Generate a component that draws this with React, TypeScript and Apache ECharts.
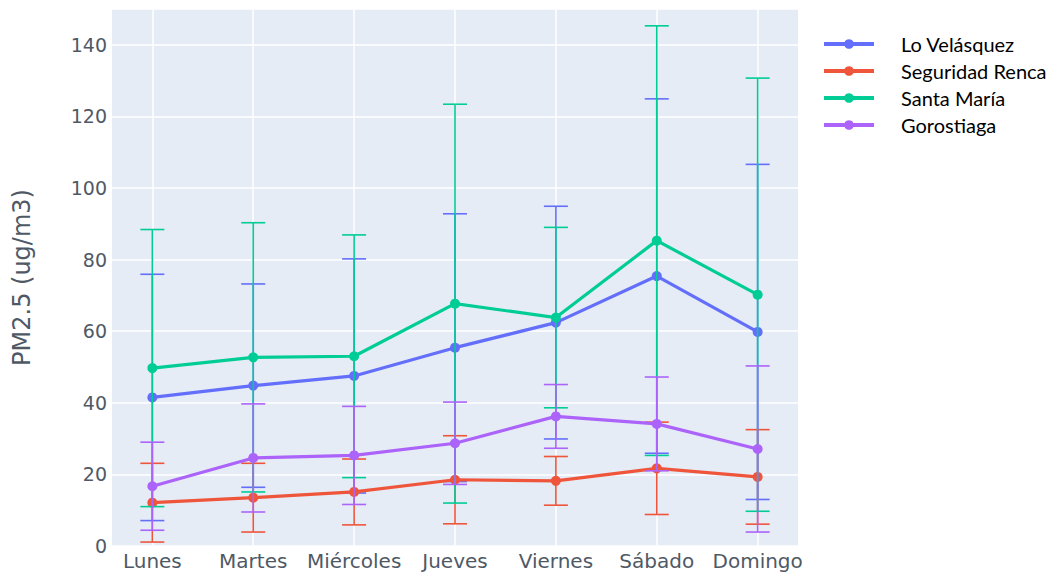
import React, { useEffect, useRef } from "react";
import * as echarts from "echarts";

const days = ["Lunes", "Martes", "Miércoles", "Jueves", "Viernes", "Sábado", "Domingo"];
const seriesNames = ["Lo Velásquez", "Seguridad Renca", "Santa María", "Gorostiaga"];
const colors = ["#636efa", "#EF553B", "#00cc96", "#ab63fa"];

const loVelasquez = [41.5, 44.8, 47.5, 55.4, 62.4, 75.4, 59.8];
const loVelasquezErr = [34.4, 28.4, 32.7, 37.4, 32.5, 49.5, 46.8];
const seguridadRenca = [12.1, 13.5, 15.1, 18.5, 18.2, 21.7, 19.3];
const seguridadRencaErr = [11.0, 9.6, 9.2, 12.3, 6.8, 12.9, 13.2];
const santaMaria = [49.7, 52.7, 53.0, 67.7, 63.8, 85.3, 70.2];
const santaMariaErr = [38.7, 37.6, 33.9, 55.7, 25.2, 60.0, 60.5];
const gorostiaga = [16.7, 24.6, 25.3, 28.7, 36.2, 34.1, 27.1];
const gorostiagaErr = [12.3, 15.1, 13.7, 11.5, 8.9, 13.1, 23.2];

const yTicks = [0, 20, 40, 60, 80, 100, 120, 140];

const means = [loVelasquez, seguridadRenca, santaMaria, gorostiaga];
const errs = [loVelasquezErr, seguridadRencaErr, santaMariaErr, gorostiagaErr];

const axisFont = "DejaVu Sans";
const axisColor = "#4f5966";

export default function App() {
  const ref = useRef<HTMLDivElement>(null);
  useEffect(() => {
    if (!ref.current) return;
    const chart = echarts.init(ref.current, undefined, { renderer: "svg" });
    const series: any[] = [];
    means.forEach((m, si) => {
      const color = colors[si];
      series.push({
        type: "custom",
        name: seriesNames[si] + " err",
        data: m.map((v, i) => [i, v - errs[si][i], v + errs[si][i]]),
        encode: { x: 0, y: [1, 2] },
        z: 2 + si * 2,
        silent: true,
        renderItem: (params: any, api: any) => {
          const x = api.value(0);
          const lo = api.coord([x, api.value(1)]);
          const hi = api.coord([x, api.value(2)]);
          const hw = 12;
          const st = { stroke: color, lineWidth: 1.6 };
          return {
            type: "group",
            children: [
              { type: "line", shape: { x1: lo[0], y1: lo[1], x2: hi[0], y2: hi[1] }, style: st },
              { type: "line", shape: { x1: lo[0] - hw, y1: lo[1], x2: lo[0] + hw, y2: lo[1] }, style: st },
              { type: "line", shape: { x1: hi[0] - hw, y1: hi[1], x2: hi[0] + hw, y2: hi[1] }, style: st },
            ],
          };
        },
      });
      series.push({
        type: "line",
        name: seriesNames[si],
        data: m.map((v, i) => [i, v]),
        z: 3 + si * 2,
        symbol: "circle",
        symbolSize: 10,
        lineStyle: { width: 3.2, color },
        itemStyle: { color },
      });
    });

    chart.setOption({
      animation: false,
      color: colors,
      grid: {
        left: 112,
        top: 9,
        width: 686,
        height: 537,
        show: true,
        backgroundColor: "#E5ECF6",
        borderWidth: 0,
      },
      legend: {
        data: seriesNames,
        orient: "vertical",
        left: 822,
        top: 33,
        padding: 0,
        itemWidth: 50,
        itemHeight: 12,
        itemGap: 5,
        lineStyle: { width: 4 },
        textStyle: {
          fontFamily: "Lato",
          fontSize: 20,
          lineHeight: 22,
          color: "#000",
          padding: [0, 0, 0, 22],
        },
      },
      xAxis: {
        type: "value",
        min: -0.4,
        max: 6.4,
        axisLine: { show: false },
        axisTick: { show: false, customValues: [0, 1, 2, 3, 4, 5, 6] },
        splitLine: { show: true, lineStyle: { color: "#ffffff", width: 1.5 } },
        axisLabel: {
          customValues: [0, 1, 2, 3, 4, 5, 6],
          formatter: (v: number) => days[Math.round(v)],
          fontFamily: axisFont,
          fontSize: 20,
          color: axisColor,
          margin: 5,
        },
      },
      yAxis: {
        type: "value",
        min: 0,
        max: 150,
        interval: 20,
        name: "PM2.5 (ug/m3)",
        nameLocation: "middle",
        nameGap: 78,
        nameTextStyle: { fontFamily: axisFont, fontSize: 24, color: axisColor },
        axisLine: { show: false },
        axisTick: { show: false },
        splitLine: { show: true, lineStyle: { color: "#ffffff", width: 1.5 } },
        axisLabel: {
          customValues: yTicks,
          fontFamily: axisFont,
          fontSize: 19,
          color: axisColor,
          margin: 5,
        },
      },
      series,
    });
    return () => chart.dispose();
  }, []);
  return (
    <div
      ref={ref}
      style={{ position: "absolute", left: 0, top: 0, width: 1048, height: 575, background: "#fff" }}
    />
  );
}
